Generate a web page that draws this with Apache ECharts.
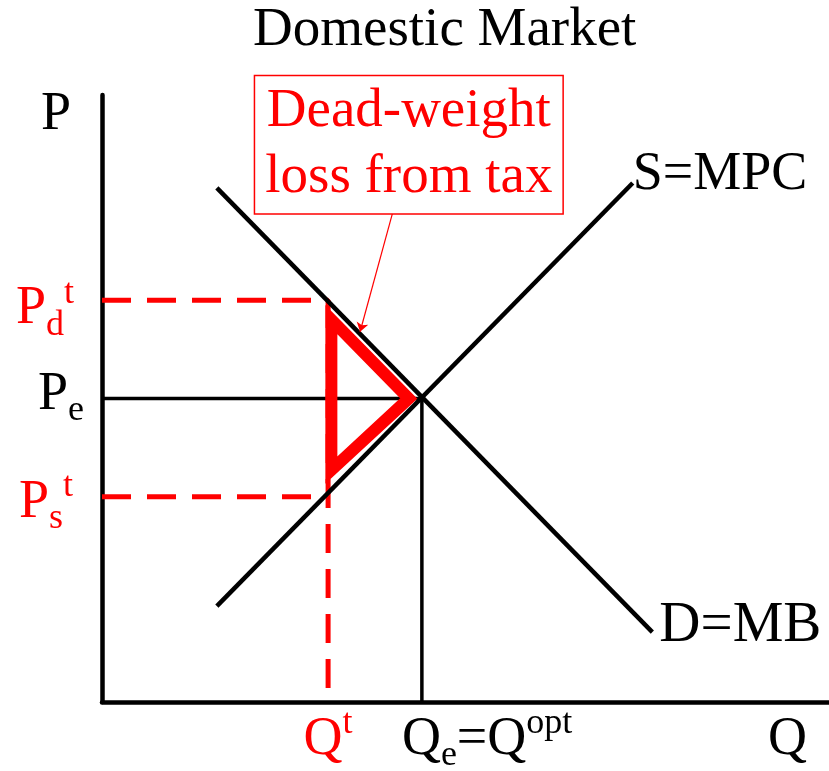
<!DOCTYPE html>
<html>
<head>
<meta charset="utf-8">
<script src="https://cdn.jsdelivr.net/npm/echarts@6/dist/echarts.min.js"></script>
<style>
html,body{margin:0;padding:0;background:#fff;}
#chart{width:829px;height:771px;}
</style>
</head>
<body>
<div id="chart"></div>
<script>
// ---- data (abstract units: Q and P on 0..100 scales) ----
const supplyQ = [15.8, 73.0];
const supplyP = [15.8, 85.5];
const demandQ = [15.8, 75.7];
const demandP = [84.7, 11.5];
const eqQ = 44.0;      // Qe = Qopt
const eqP = 50.0;      // Pe
const taxQ = 31.1;     // Q^t
const pdT = 66.2;      // Pd^t
const psT = 33.8;      // Ps^t
const dwlQ = [31.55, 42.2, 31.55];
const dwlP = [63.0, 50.0, 38.2];
const calloutPos = [42.2, 91.8];
const calloutTip = [35.5, 61.0];
const calloutText = ['Dead-weight', 'loss from tax'];
const titleText = 'Domestic Market';

const F = 'Liberation Serif, Times New Roman, serif';
const RED = '#ff0000';
const BLK = '#000000';

function rich(color, size) {
  return {
    m:   {fontFamily: F, fontSize: size || 54, lineHeight: 68, color: color},
    sub: {fontFamily: F, fontSize: 36, verticalAlign: 'bottom', color: color},
    sup: {fontFamily: F, fontSize: 36, verticalAlign: 'top', color: color}
  };
}

function lbl(value, text, color, position, distance, offset, align, size) {
  const l = {show: true, formatter: text, position: position, distance: distance,
             offset: offset, rich: rich(color, size), color: color};
  if (align) l.align = align;
  return {value: value, label: l};
}

const labelItems = [
  lbl([0, 100], '{m|P}', BLK, 'left', 31, [0, 20]),
  lbl([0, pdT], '{m|P}{sub|d}{sup|t}', RED, 'left', 28, [0, 9]),
  lbl([0, eqP], '{m|P}{sub|e}', BLK, 'left', 18, [0, -4]),
  lbl([0, psT], '{m|P}{sub|s}{sup|t}', RED, 'left', 29, [0, 6]),
  lbl([taxQ, 0], '{m|Q}{sup|t}', RED, 'bottom', 4, [0, 0]),
  lbl([eqQ, 0], '{m|Q}{sub|e}{m|=Q}{sup|opt}', BLK, 'bottom', 4, [-20, 0], 'left'),
  lbl([91.6, 0], '{m|Q}', BLK, 'bottom', 4, [0, 0], 'left'),
  lbl([supplyQ[1], supplyP[1]], '{m|S=MPC}', BLK, 'right', 0, [0, -8]),
  lbl([demandQ[1], demandP[1]], '{m|D=MB}', BLK, 'right', 7, [0, -6], null, 57)
];

const chart = echarts.init(document.getElementById('chart'), null, {renderer: 'canvas'});
const option = {
  animation: false,
  backgroundColor: '#ffffff',
  title: {
    text: titleText, left: 253, top: 3, padding: 0,
    textStyle: {fontFamily: F, fontSize: 55, fontWeight: 'normal', color: BLK}
  },
  grid: {left: 102, right: 0, top: 95, bottom: 69, containLabel: false},
  xAxis: {
    type: 'value', min: 0, max: 100,
    axisLine: {show: true, onZero: false, lineStyle: {color: BLK, width: 4.5}},
    axisTick: {show: false}, axisLabel: {show: false}, splitLine: {show: false}
  },
  yAxis: {
    type: 'value', min: 0, max: 100,
    axisLine: {show: true, onZero: false, lineStyle: {color: BLK, width: 4.5}},
    axisTick: {show: false}, axisLabel: {show: false}, splitLine: {show: false}
  },
  series: [
    {
      name: 'Pe guide', type: 'line', symbol: 'none', z: 2, silent: true,
      data: [[0, eqP], [eqQ, eqP]],
      lineStyle: {color: BLK, width: 3.5}
    },
    {
      name: 'Qe guide', type: 'line', symbol: 'none', z: 2, silent: true,
      data: [[eqQ, eqP], [eqQ, 0]],
      lineStyle: {color: BLK, width: 3.5}
    },
    {
      name: 'Pd dash', type: 'line', symbol: 'none', z: 2, silent: true,
      data: [[0, pdT], [taxQ, pdT], [taxQ, 0]],
      lineStyle: {color: RED, width: 5, type: [29, 16]}
    },
    {
      name: 'Ps dash', type: 'line', symbol: 'none', z: 2, silent: true,
      data: [[0, psT], [taxQ, psT]],
      lineStyle: {color: RED, width: 5, type: [29, 16]}
    },
    {
      name: 'DWL', type: 'custom', z: 3, silent: true,
      data: [[dwlQ[0], dwlP[0]]],
      renderItem: function (params, api) {
        const pts = dwlQ.map(function (q, i) { return api.coord([q, dwlP[i]]); });
        return {
          type: 'polygon',
          shape: {points: pts},
          style: {fill: 'none', stroke: RED, lineWidth: 12, lineJoin: 'miter', miterLimit: 10}
        };
      }
    },
    {
      name: 'Demand', type: 'line', symbol: 'none', z: 5, silent: true,
      data: demandQ.map(function (q, i) { return [q, demandP[i]]; }),
      lineStyle: {color: BLK, width: 4.5}
    },
    {
      name: 'Supply', type: 'line', symbol: 'none', z: 5, silent: true,
      data: supplyQ.map(function (q, i) { return [q, supplyP[i]]; }),
      lineStyle: {color: BLK, width: 4.5}
    },
    {
      name: 'Leader', type: 'lines', coordinateSystem: 'cartesian2d', z: 6, silent: true,
      symbol: ['none', 'arrow'], symbolSize: 9,
      data: [{coords: [[calloutPos[0] - 2.2, 80.7], calloutTip]}],
      lineStyle: {color: RED, width: 1.2, opacity: 1}
    },
    {
      name: 'Callout', type: 'scatter', symbolSize: 0, z: 7, silent: true,
      itemStyle: {opacity: 1},
      data: [{
        value: calloutPos,
        label: {
          show: true, position: 'inside',
          formatter: calloutText.join('\n'),
          fontFamily: F, fontSize: 55, lineHeight: 66, color: RED,
          borderColor: RED, borderWidth: 1.5, padding: [5, 10, 0, 10],
          backgroundColor: '#ffffff'
        }
      }]
    },
    {
      name: 'Labels', type: 'scatter', symbolSize: 0, z: 8, silent: true,
      itemStyle: {opacity: 1},
      data: labelItems
    }
  ]
};
chart.setOption(option);
</script>
</body>
</html>
